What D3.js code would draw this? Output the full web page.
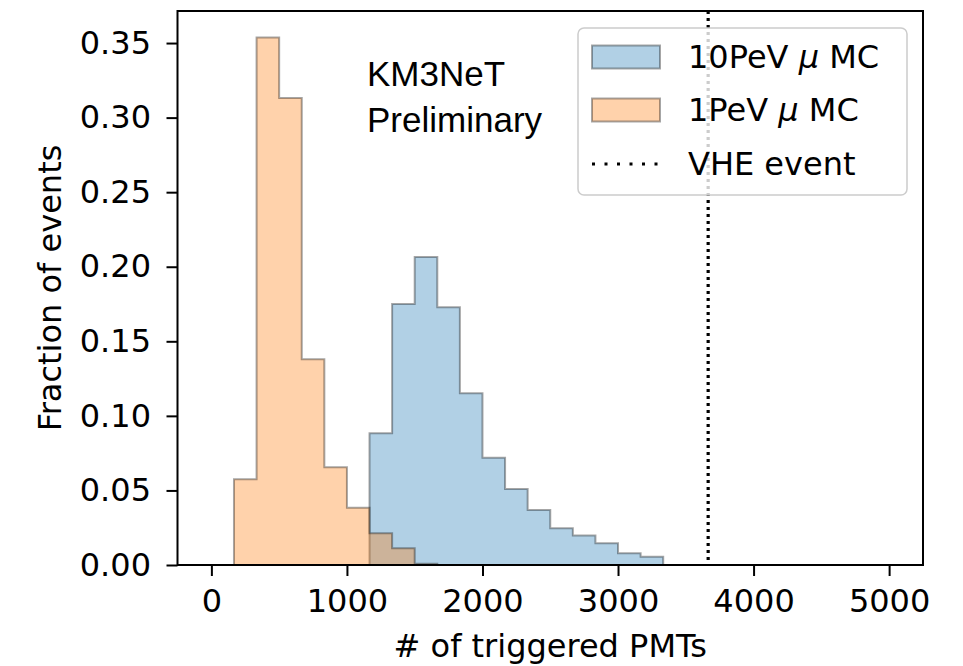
<!DOCTYPE html>
<html>
<head>
<meta charset="utf-8">
<script src="https://cdn.jsdelivr.net/npm/d3@7"></script>
<style>
  html, body { margin: 0; padding: 0; background: #fff; }
  svg { display: block; }
  text { font-family: "DejaVu Sans", sans-serif; fill: #000; }
</style>
</head>
<body>
<svg id="chart" width="963" height="666"></svg>
<script>
// ---- data ----
const binRange = [0, 5000];     // histogram range
const binCount = 30;            // number of bins
// fraction of events per bin, 10 PeV muon MC
const tenPeV = [0, 0, 0, 0, 0, 0, 0, 0.0884, 0.1751, 0.2065, 0.1729, 0.1152, 0.0720, 0.0510,
                0.0369, 0.0246, 0.0197, 0.0146, 0.0078, 0.0056, 0, 0, 0, 0, 0, 0, 0, 0, 0, 0];
// fraction of events per bin, 1 PeV muon MC
const onePeV = [0, 0.0575, 0.3538, 0.3131, 0.1380, 0.0656, 0.0384, 0.0213, 0.0112, 0.0008,
                0, 0, 0, 0, 0, 0, 0, 0, 0, 0, 0, 0, 0, 0, 0, 0, 0, 0, 0, 0];
const vheEvent = 3665;          // triggered PMTs of the VHE event
const xTicks = [0, 1000, 2000, 3000, 4000, 5000];
const yTicks = [0, 0.05, 0.10, 0.15, 0.20, 0.25, 0.30, 0.35];
const seriesNames = ["10PeV \u03BC MC", "1PeV \u03BC MC", "VHE event"];
const xLabel = "# of triggered PMTs";
const yLabel = "Fraction of events";
const annotation = ["KM3NeT", "Preliminary"];

// ---- layout ----
const plot = { left: 177.5, right: 923, top: 11, bottom: 565 };
const svg = d3.select("#chart");

const xPad = (binRange[1] - binRange[0]) * 0.05;
const x = d3.scaleLinear()
  .domain([binRange[0] - xPad, binRange[1] + xPad])
  .range([plot.left, plot.right]);
const yMax = d3.max(onePeV.concat(tenPeV)) * 1.05;
const y = d3.scaleLinear().domain([0, yMax]).range([plot.bottom, plot.top]);

const binW = (binRange[1] - binRange[0]) / binCount;
function stepPoints(vals) {
  const pts = [[binRange[0], 0]];
  vals.forEach((v, i) => {
    pts.push([binRange[0] + i * binW, v]);
    pts.push([binRange[0] + (i + 1) * binW, v]);
  });
  pts.push([binRange[1], 0]);
  return pts;
}
const line = d3.line().x(d => x(d[0])).y(d => y(d[1]));

const colors = ["#1f77b4", "#ff7f0e"];
[tenPeV, onePeV].forEach((vals, i) => {
  svg.append("path")
    .attr("d", line(stepPoints(vals)) + "Z")
    .attr("fill", colors[i]).attr("fill-opacity", 0.35)
    .attr("stroke", "#000").attr("stroke-opacity", 0.35)
    .attr("stroke-width", 2).attr("stroke-linejoin", "miter");
});

// VHE event line
svg.append("line")
  .attr("x1", x(vheEvent)).attr("x2", x(vheEvent))
  .attr("y1", plot.top).attr("y2", plot.bottom)
  .attr("stroke", "#000").attr("stroke-width", 3.2)
  .attr("stroke-dasharray", "3,4");

// axes
const xAxis = d3.axisBottom(x).tickValues(xTicks).tickFormat(d3.format("d"))
  .tickSize(11).tickPadding(13);
const yAxis = d3.axisLeft(y).tickValues(yTicks).tickFormat(d3.format(".2f"))
  .tickSize(11).tickPadding(15.5);

const gx = svg.append("g").attr("transform", `translate(0,${plot.bottom})`).call(xAxis);
const gy = svg.append("g").attr("transform", `translate(${plot.left},0)`).call(yAxis);
[gx, gy].forEach(g => {
  g.select(".domain").remove();
  g.selectAll(".tick line").attr("stroke", "#000").attr("stroke-width", 2);
  g.selectAll(".tick text").attr("font-size", 32).attr("font-family", "DejaVu Sans").attr("fill", "#000");
});

// frame
svg.append("rect")
  .attr("x", plot.left).attr("y", plot.top)
  .attr("width", plot.right - plot.left).attr("height", plot.bottom - plot.top)
  .attr("fill", "none").attr("stroke", "#000").attr("stroke-width", 2);

// axis labels
svg.append("text").attr("x", (plot.left + plot.right) / 2).attr("y", 657)
  .attr("text-anchor", "middle").attr("font-size", 32).text(xLabel);
svg.append("text")
  .attr("transform", `translate(61,${(plot.top + plot.bottom) / 2}) rotate(-90)`)
  .attr("text-anchor", "middle").attr("font-size", 32).text(yLabel);

// annotation
annotation.forEach((t, i) => {
  svg.append("text").attr("x", 367).attr("y", 86 + i * 46)
    .style("font-family", "'Liberation Sans', Arial, sans-serif")
    .attr("font-size", 35).text(t);
});

// legend
const lg = svg.append("g");
lg.append("rect").attr("x", 578).attr("y", 28).attr("width", 329).attr("height", 167)
  .attr("rx", 6).attr("fill", "#fff").attr("fill-opacity", 0.8)
  .attr("stroke", "#ccc").attr("stroke-width", 1.5);
const rowY = [57, 110, 164];
[0, 1].forEach(i => {
  lg.append("rect").attr("x", 592).attr("y", rowY[i] - 11.5).attr("width", 68).attr("height", 23)
    .attr("fill", colors[i]).attr("fill-opacity", 0.35)
    .attr("stroke", "#000").attr("stroke-opacity", 0.35).attr("stroke-width", 2);
});
lg.append("line").attr("x1", 592).attr("x2", 660).attr("y1", rowY[2]).attr("y2", rowY[2])
  .attr("stroke", "#000").attr("stroke-width", 3.2).attr("stroke-dasharray", "3,9.5");
seriesNames.forEach((name, i) => {
  const t = lg.append("text").attr("x", 688).attr("y", rowY[i] + 11).attr("font-size", 32);
  if (name.includes("\u03BC")) {
    const parts = name.split("\u03BC");
    t.append("tspan").text(parts[0]);
    t.append("tspan").attr("font-style", "italic").text("\u03BC");
    t.append("tspan").text(parts[1]);
  } else {
    t.text(name);
  }
});
</script>
</body>
</html>
